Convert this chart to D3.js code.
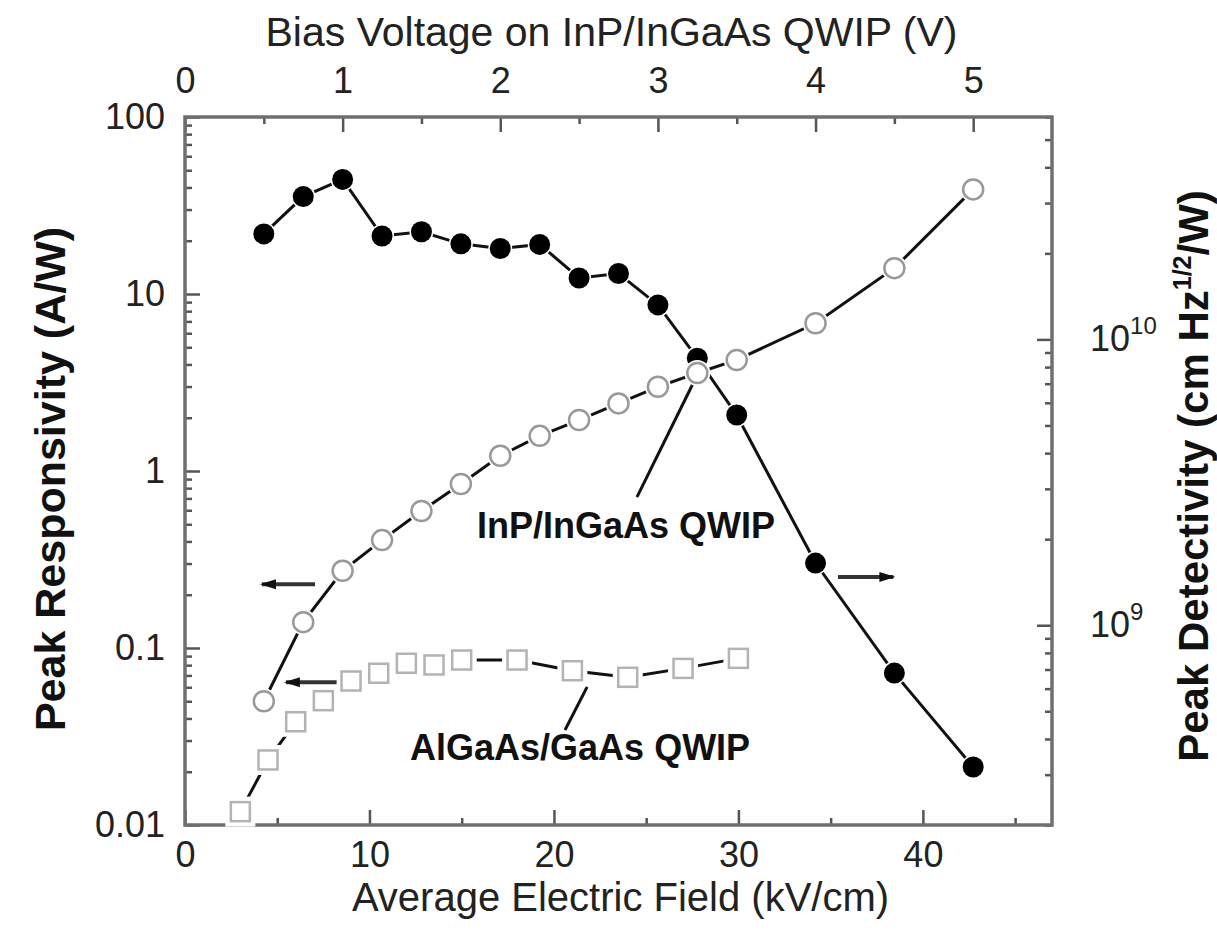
<!DOCTYPE html>
<html>
<head>
<meta charset="utf-8">
<script src="https://cdn.jsdelivr.net/npm/d3@7"></script>
<style>
  body { margin: 0; background: #fff; }
  svg { display: block; }
</style>
</head>
<body>
<div id="chart"></div>
<script>
// DATA

// InP/InGaAs QWIP, plotted against bias voltage (top axis)
const biasVoltage = [0.5, 0.75, 1, 1.25, 1.5, 1.75, 2, 2.25, 2.5, 2.75, 3, 3.25, 3.5, 4, 4.5, 5];
const inpDetectivity = [2.34e10, 3.16e10, 3.63e10, 2.30e10, 2.38e10, 2.16e10, 2.08e10, 2.15e10,
                        1.64e10, 1.70e10, 1.32e10, 8.6e9, 5.44e9, 1.65e9, 6.8e8, 3.19e8];
const inpResponsivity = [0.050, 0.140, 0.273, 0.407, 0.594, 0.845, 1.22, 1.58,
                         1.94, 2.41, 2.99, 3.58, 4.24, 6.83, 14.0, 39.0];

// AlGaAs/GaAs QWIP, plotted against average field (bottom axis)
const algaasField = [3, 4.5, 6, 7.5, 9, 10.5, 12, 13.5, 15, 18, 21, 24, 27, 30];
const algaasResponsivity = [0.0119, 0.0233, 0.0383, 0.0504, 0.0651, 0.0720, 0.0820, 0.0802,
                            0.0855, 0.0855, 0.0744, 0.0683, 0.0767, 0.0874];

// ticks
const fieldTicks = [0, 10, 20, 30, 40];
const fieldMinorTicks = [5, 15, 25, 35, 45];
const biasTicks = [0, 1, 2, 3, 4, 5];
const biasMinorTicks = [0.5, 1.5, 2.5, 3.5, 4.5];
const respTicks = [0.01, 0.1, 1, 10, 100];
const respTickLabels = ["0.01", "0.1", "1", "10", "100"];
const detTicks = [1e9, 1e10];
const detTickExponents = ["9", "10"];

// LAYOUT

const W = 1217, H = 940;
const margin = { top: 117, right: 165, bottom: 115, left: 185 };
const width = W - margin.left - margin.right;
const height = H - margin.top - margin.bottom;
const FONT = "'Liberation Sans', Arial, Helvetica, sans-serif";

const svg = d3.select("#chart").append("svg")
    .attr("width", W)
    .attr("height", H)
    .attr("font-family", FONT);

const g = svg.append("g")
    .attr("transform", `translate(${margin.left},${margin.top})`);

const xBottom = d3.scaleLinear().domain([0, 47]).range([0, width]);
const xTop = d3.scaleLinear().domain([0, 5.5]).range([0, width]);
const yLeft = d3.scaleLog().domain([0.01, 100]).range([height, 0]);
const yRight = d3.scaleLog().domain([2e8, 6e10]).range([height, 0]);

const isDecade = d => Math.abs(Math.log10(d) - Math.round(Math.log10(d))) < 1e-6;

function styleAxis(sel) {
    sel.attr("font-family", FONT).attr("font-size", 36);
    sel.select(".domain").remove();
    sel.selectAll(".tick line").attr("stroke", "#555").attr("stroke-width", 2.5);
    sel.selectAll(".tick text").attr("fill", "#222");
}

// AXES

// bottom
g.append("g")
    .attr("transform", `translate(0,${height})`)
    .call(d3.axisBottom(xBottom).tickValues(fieldTicks).tickFormat(d3.format("d"))
        .tickSize(-15).tickSizeOuter(0).tickPadding(16))
    .call(styleAxis);
g.append("g")
    .attr("transform", `translate(0,${height})`)
    .call(d3.axisBottom(xBottom).tickValues(fieldMinorTicks).tickFormat("")
        .tickSize(-7).tickSizeOuter(0))
    .call(styleAxis);

// top
g.append("g")
    .call(d3.axisTop(xTop).tickValues(biasTicks).tickFormat(d3.format("d"))
        .tickSize(-15).tickSizeOuter(0).tickPadding(24))
    .call(styleAxis);
g.append("g")
    .call(d3.axisTop(xTop).tickValues(biasMinorTicks).tickFormat("")
        .tickSize(-7).tickSizeOuter(0))
    .call(styleAxis);

// left
g.append("g")
    .call(d3.axisLeft(yLeft).tickValues(respTicks).tickFormat((d, i) => respTickLabels[i])
        .tickSize(-15).tickSizeOuter(0).tickPadding(20))
    .call(styleAxis);
g.append("g")
    .call(d3.axisLeft(yLeft).tickValues(yLeft.ticks().filter(d => !isDecade(d))).tickFormat("")
        .tickSize(-7).tickSizeOuter(0))
    .call(styleAxis);

// right
const rightAxis = g.append("g")
    .attr("transform", `translate(${width},0)`)
    .call(d3.axisRight(yRight).tickValues(detTicks)
        .tickSize(-15).tickSizeOuter(0).tickPadding(38))
    .call(styleAxis);
rightAxis.selectAll(".tick text").each(function(d, i) {
    const t = d3.select(this);
    t.text("");
    t.append("tspan").text("10");
    t.append("tspan").attr("dy", -17).attr("font-size", 24).text(detTickExponents[i]);
});
g.append("g")
    .attr("transform", `translate(${width},0)`)
    .call(d3.axisRight(yRight).tickValues(yRight.ticks().filter(d => !isDecade(d))).tickFormat("")
        .tickSize(-7).tickSizeOuter(0))
    .call(styleAxis);

// frame
g.append("rect")
    .attr("width", width)
    .attr("height", height)
    .attr("fill", "none")
    .attr("stroke", "#6f6f6f")
    .attr("stroke-width", 3.5);

// SERIES

const lineGen = d3.line().x(d => d[0]).y(d => d[1]);

// AlGaAs/GaAs responsivity: open squares
const sqPts = algaasField.map((f, i) => [xBottom(f), yLeft(algaasResponsivity[i])]);
g.append("path").attr("d", lineGen(sqPts))
    .attr("fill", "none").attr("stroke", "#111").attr("stroke-width", 3);
g.selectAll(".sq-halo").data(sqPts).join("rect")
    .attr("class", "sq-halo")
    .attr("x", d => d[0] - 15).attr("y", d => d[1] - 15)
    .attr("width", 30).attr("height", 30)
    .attr("fill", "#fff");
g.selectAll(".sq").data(sqPts).join("rect")
    .attr("class", "sq")
    .attr("x", d => d[0] - 9.5).attr("y", d => d[1] - 9.5)
    .attr("width", 19).attr("height", 19)
    .attr("fill", "#fff").attr("stroke", "#b3b3b3").attr("stroke-width", 2.5);

// InP/InGaAs detectivity: filled circles (right axis)
const detPts = biasVoltage.map((v, i) => [xTop(v), yRight(inpDetectivity[i])]);
g.append("path").attr("d", lineGen(detPts))
    .attr("fill", "none").attr("stroke", "#111").attr("stroke-width", 3);
g.selectAll(".det-halo").data(detPts).join("circle")
    .attr("class", "det-halo")
    .attr("cx", d => d[0]).attr("cy", d => d[1]).attr("r", 12)
    .attr("fill", "#fff");
g.selectAll(".det").data(detPts).join("circle")
    .attr("class", "det")
    .attr("cx", d => d[0]).attr("cy", d => d[1]).attr("r", 10.5)
    .attr("fill", "#000");

// InP/InGaAs responsivity: open circles (left axis)
const respPts = biasVoltage.map((v, i) => [xTop(v), yLeft(inpResponsivity[i])]);
g.append("path").attr("d", lineGen(respPts))
    .attr("fill", "none").attr("stroke", "#111").attr("stroke-width", 3);
g.selectAll(".resp-halo").data(respPts).join("circle")
    .attr("class", "resp-halo")
    .attr("cx", d => d[0]).attr("cy", d => d[1]).attr("r", 13)
    .attr("fill", "#fff");
g.selectAll(".resp").data(respPts).join("circle")
    .attr("class", "resp")
    .attr("cx", d => d[0]).attr("cy", d => d[1]).attr("r", 10)
    .attr("fill", "#fff").attr("stroke", "#999").attr("stroke-width", 2.5);

// ANNOTATIONS

svg.append("defs").append("marker")
    .attr("id", "head")
    .attr("markerUnits", "userSpaceOnUse")
    .attr("markerWidth", 16).attr("markerHeight", 12)
    .attr("refX", 14).attr("refY", 6)
    .attr("orient", "auto")
    .append("path")
    .attr("d", "M0,1 L16,6 L0,11 Z")
    .attr("fill", "#111");

// arrows point to the axis each curve belongs to (field, value)
const arrows = [
    { from: [7.05, 0.229], to: [4.17, 0.229], axis: yLeft },
    { from: [8.22, 0.064], to: [5.47, 0.064], axis: yLeft },
    { from: [35.4, 1.475e9], to: [38.4, 1.475e9], axis: yRight }
];
g.selectAll(".arrow").data(arrows).join("line")
    .attr("class", "arrow")
    .attr("x1", d => xBottom(d.from[0])).attr("y1", d => d.axis(d.from[1]))
    .attr("x2", d => xBottom(d.to[0])).attr("y2", d => d.axis(d.to[1]))
    .attr("stroke", "#333").attr("stroke-width", 4)
    .attr("marker-end", "url(#head)");

// label pointers (field, responsivity)
const pointers = [
    { from: [24.5, 0.712], to: [27.5, 3.06] },
    { from: [20.6, 0.0344], to: [21.8, 0.0603] }
];
g.selectAll(".pointer").data(pointers).join("line")
    .attr("class", "pointer")
    .attr("x1", d => xBottom(d.from[0])).attr("y1", d => yLeft(d.from[1]))
    .attr("x2", d => xBottom(d.to[0])).attr("y2", d => yLeft(d.to[1]))
    .attr("stroke", "#111").attr("stroke-width", 3);

const curveLabels = [
    { text: "InP/InGaAs QWIP", at: [15.83, 0.418] },
    { text: "AlGaAs/GaAs QWIP", at: [12.2, 0.0233] }
];
g.selectAll(".curve-label").data(curveLabels).join("text")
    .attr("class", "curve-label")
    .attr("x", d => xBottom(d.at[0])).attr("y", d => yLeft(d.at[1]))
    .attr("font-size", 36).attr("font-weight", "bold").attr("fill", "#111")
    .text(d => d.text);

// AXIS TITLES

svg.append("text")
    .attr("x", margin.left + width / 2 - 7).attr("y", 46)
    .attr("text-anchor", "middle").attr("font-size", 41).attr("fill", "#222")
    .text("Bias Voltage on InP/InGaAs QWIP (V)");

svg.append("text")
    .attr("x", margin.left + width / 2 + 2).attr("y", 911)
    .attr("text-anchor", "middle").attr("font-size", 40).attr("fill", "#222")
    .text("Average Electric Field (kV/cm)");

svg.append("text")
    .attr("transform", `translate(50,${margin.top + height / 2 + 8}) rotate(-90)`)
    .attr("dy", "0.35em")
    .attr("text-anchor", "middle").attr("font-size", 43).attr("font-weight", "bold").attr("fill", "#111")
    .text("Peak Responsivity (A/W)");

const rightTitle = svg.append("text")
    .attr("transform", `translate(1193,${margin.top + height / 2 + 5}) rotate(-90)`)
    .attr("dy", "0.35em")
    .attr("text-anchor", "middle").attr("font-size", 42).attr("font-weight", "bold").attr("fill", "#111");
rightTitle.append("tspan").text("Peak Detectivity (cm Hz");
rightTitle.append("tspan").attr("font-size", 25).attr("dy", -17).text("1/2");
rightTitle.append("tspan").attr("dy", 17).text("/W)");
</script>
</body>
</html>
